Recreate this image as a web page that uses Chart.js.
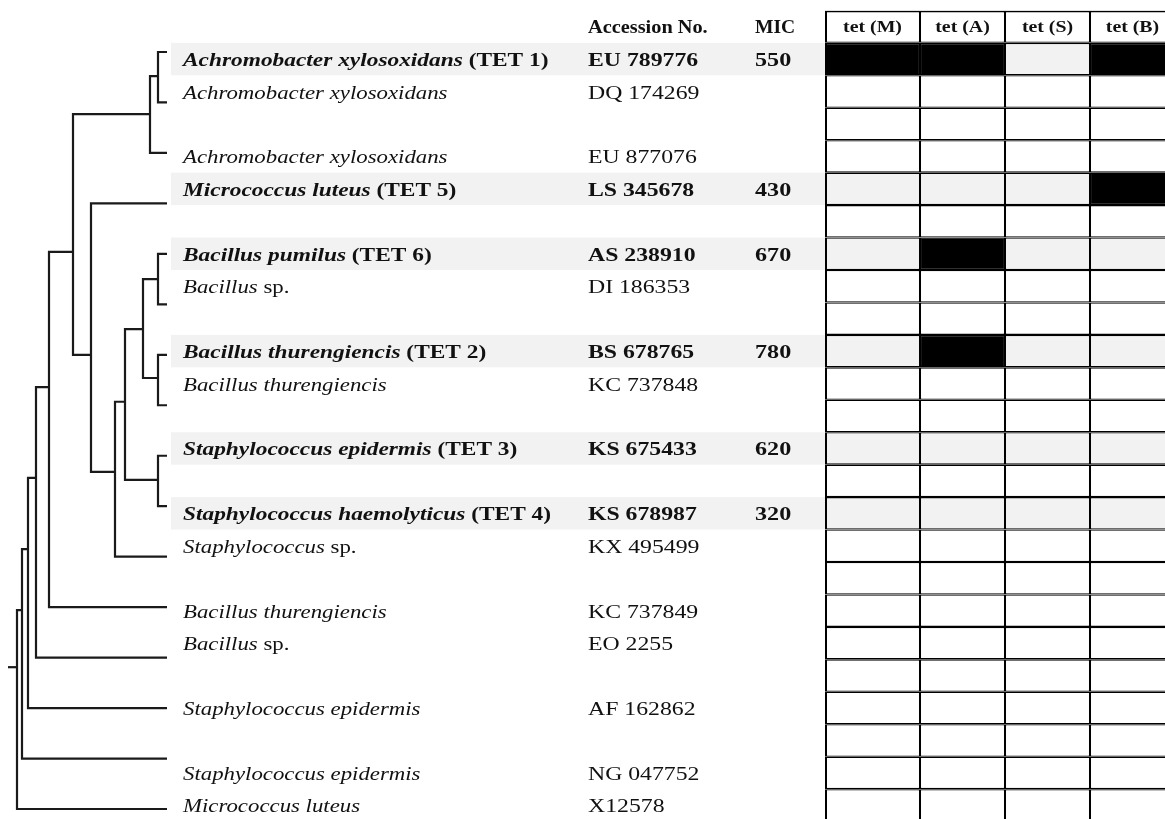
<!DOCTYPE html>
<html><head><meta charset="utf-8">
<script src="https://cdn.jsdelivr.net/npm/chart.js@4.4.1/dist/chart.umd.min.js"></script>
<style>
html,body{margin:0;padding:0;background:#fff;overflow:hidden;width:1165px;height:819px;}
#wrap{position:relative;width:1165px;height:819px;overflow:hidden;background:#fff;}
canvas{position:absolute;left:0;top:0;}
</style></head><body>
<div id="wrap">
<canvas id="table" width="1165" height="822"></canvas>
<canvas id="tree" width="180" height="822"></canvas>
</div>
<script>
// ================= DATA =================
// one entry per table row (24 rows, blank rows are spacer rows)
const species = [
  'Achromobacter xylosoxidans','Achromobacter xylosoxidans','','Achromobacter xylosoxidans',
  'Micrococcus luteus','','Bacillus pumilus','Bacillus','',
  'Bacillus thurengiencis','Bacillus thurengiencis','','Staphylococcus epidermis','',
  'Staphylococcus haemolyticus','Staphylococcus','','Bacillus thurengiencis','Bacillus','',
  'Staphylococcus epidermis','','Staphylococcus epidermis','Micrococcus luteus'
];
const strainTag = [
  '(TET 1)','','','','(TET 5)','','(TET 6)','sp.','','(TET 2)','','','(TET 3)','',
  '(TET 4)','sp.','','','sp.','','','','',''
];
const accession = [
  'EU 789776','DQ 174269','','EU 877076','LS 345678','','AS 238910','DI 186353','',
  'BS 678765','KC 737848','','KS 675433','','KS 678987','KX 495499','','KC 737849',
  'EO 2255','','AF 162862','','NG 047752','X12578'
];
const micValues = [550,null,null,null,430,null,670,null,null,780,null,null,620,null,320,null,null,null,null,null,null,null,null,null];
const headers = ['Accession No.','MIC'];
const genes = ['tet (M)','tet (A)','tet (S)','tet (B)'];
const tetM = [1,0,0,0,0,0,0,0,0,0,0,0,0,0,0,0,0,0,0,0,0,0,0,0];
const tetA = [1,0,0,0,0,0,1,0,0,1,0,0,0,0,0,0,0,0,0,0,0,0,0,0];
const tetS = [0,0,0,0,0,0,0,0,0,0,0,0,0,0,0,0,0,0,0,0,0,0,0,0];
const tetB = [1,0,0,0,1,0,0,0,0,0,0,0,0,0,0,0,0,0,0,0,0,0,0,0];

// phylogenetic tree: 16 leaves (top to bottom), internal nodes with depth (branch units) and y (leaf units)
const leafDepth = 159;
const nodeNames  = ['A','B','P1','P2','P3','Q','S','T','D','C','E','F','G','H','R'];
const nodeDepth  = [150,142,150,150,150,135,117,107,83,65,41,28,20,14,9];
const nodeY      = [0.48,1.23,4.5,6.46,8.48,5.49,6.93,8.32,6.0,3.96,6.64,8.44,9.85,11.06,12.19];
const nodeChild1 = ['L0','A','L4','L6','L8','P1','Q','S','L3','B','C','E','F','G','H'];
const nodeChild2 = ['L1','L2','L5','L7','L9','P2','P3','L10','T','D','L11','L12','L13','L14','L15'];
const rootStubStart = 0;

// ================= LAYOUT / STYLE =================
const COLUMN_WIDTH = [95,85,85,85];   // px widths of gene columns
const X_SPECIES = 183, X_ACC = 588, X_MIC = 755, BAND_LEFT = 171;
const SHADE = '#f2f2f2', INK = '#111';
const SERIF = '"Liberation Serif","Times New Roman",serif';

const presence = [tetM, tetA, tetS, tetB];
const isIsolate = strainTag.map(t => t.startsWith('('));

function drawScaled(ctx, text, x, y, font, sx, align) {
  ctx.save();
  ctx.font = font;
  const w = ctx.measureText(text).width * sx;
  const x0 = align === 'center' ? x - w / 2 : x;
  ctx.translate(x0, y);
  ctx.scale(sx, 1);
  ctx.textAlign = 'left';
  ctx.textBaseline = 'alphabetic';
  ctx.fillStyle = INK;
  ctx.fillText(text, 0, 0);
  ctx.restore();
  return w;
}

const tablePlugin = {
  id: 'tableText',
  beforeDatasetsDraw(chart) {
    const ctx = chart.ctx, ys = chart.scales.y, xs = chart.scales.x;
    const h = ys.getPixelForValue(1) - ys.getPixelForValue(0);
    ctx.save();
    ctx.fillStyle = SHADE;
    isIsolate.forEach((iso, r) => {
      if (!iso) return;
      const c = ys.getPixelForValue(r + 1);
      ctx.fillRect(BAND_LEFT, c - h / 2, xs.left - BAND_LEFT, h);
    });
    ctx.restore();
  },
  afterDatasetsDraw(chart) {
    const ctx = chart.ctx, ys = chart.scales.y, xs = chart.scales.x;
    const hc = ys.getPixelForValue(0);
    // header texts
    drawScaled(ctx, headers[0], X_ACC, hc + 6, 'bold 19px ' + SERIF, 1.07);
    drawScaled(ctx, headers[1], X_MIC, hc + 6, 'bold 19px ' + SERIF, 1.03);
    let acc = 0;
    genes.forEach((g, i) => {
      const cx = xs.getPixelForValue(acc + COLUMN_WIDTH[i] / 2);
      acc += COLUMN_WIDTH[i];
      drawScaled(ctx, g, cx, hc + 5, 'bold 16px ' + SERIF, 1.24, 'center');
    });
    // rows
    species.forEach((name, r) => {
      const base = ys.getPixelForValue(r + 1) + 7;
      const bold = isIsolate[r];
      const sx = bold ? 1.23 : 1.2;
      if (name) {
        let x = X_SPECIES;
        x += drawScaled(ctx, name, x, base, (bold ? 'italic bold ' : 'italic ') + '19px ' + SERIF, sx);
        if (strainTag[r]) {
          drawScaled(ctx, ' ' + strainTag[r], x, base, (bold ? 'bold ' : '') + '19px ' + SERIF, sx);
        }
      }
      if (accession[r]) drawScaled(ctx, accession[r], X_ACC, base, (bold ? 'bold ' : '') + '19px ' + SERIF, 1.25);
      if (micValues[r] != null) drawScaled(ctx, String(micValues[r]), X_MIC, base, 'bold 19px ' + SERIF, 1.27);
    });
  }
};

// ================= TABLE / GRID CHART =================
const rowLabels = ['genes'].concat(species.map((s, i) => 'row' + i));
const gridDatasets = genes.map((g, gi) => ({
  label: g,
  data: rowLabels.map(() => COLUMN_WIDTH[gi]),
  backgroundColor: (c) => {
    const r = c.dataIndex - 1;
    if (r < 0) return '#ffffff';
    if (presence[gi][r]) return '#000000';
    return isIsolate[r] ? SHADE : '#ffffff';
  },
  borderColor: '#000',
  borderWidth: (c) => ({top: c.dataIndex === 0 ? 2 : 1.3, bottom: 1.3, left: gi === 0 ? 2 : 1.1, right: 1.1}),
  borderSkipped: false,
  inflateAmount: 0,
  barPercentage: 1,
  categoryPercentage: 1
}));

new Chart(document.getElementById('table'), {
  type: 'bar',
  data: { labels: rowLabels, datasets: gridDatasets },
  options: {
    indexAxis: 'y',
    responsive: false,
    animation: false,
    layout: { padding: { left: 825, right: 0, top: 10.4, bottom: 0.4 } },
    plugins: { legend: { display: false }, tooltip: { enabled: false } },
    scales: {
      x: { type: 'linear', stacked: true, min: 0, max: 340, display: false },
      y: { type: 'category', stacked: true, display: false, offset: true }
    }
  },
  plugins: [tablePlugin]
});

// ================= TREE CHART =================
function nodePos(id) {
  if (id[0] === 'L') return { x: leafDepth, y: Number(id.slice(1)) };
  const i = nodeNames.indexOf(id);
  return { x: nodeDepth[i], y: nodeY[i] };
}
const treeDatasets = nodeNames.map((n, i) => {
  const c1 = nodePos(nodeChild1[i]), c2 = nodePos(nodeChild2[i]);
  return {
    label: n,
    data: [
      { x: c1.x, y: c1.y }, { x: nodeDepth[i], y: c1.y },
      { x: nodeDepth[i], y: c2.y }, { x: c2.x, y: c2.y }
    ]
  };
});
const rootIdx = nodeNames.indexOf('R');
treeDatasets.push({ label: 'root', data: [{ x: rootStubStart, y: nodeY[rootIdx] }, { x: nodeDepth[rootIdx], y: nodeY[rootIdx] }] });
treeDatasets.forEach(d => Object.assign(d, {
  borderColor: '#1a1a1a', borderWidth: 2.2, pointRadius: 0, tension: 0, fill: false,
  clip: false, borderJoinStyle: 'miter', borderCapStyle: 'butt'
}));

new Chart(document.getElementById('tree'), {
  type: 'line',
  data: { datasets: treeDatasets },
  options: {
    responsive: false,
    animation: false,
    layout: { padding: { left: 8, right: 13, top: 52, bottom: 13 } },
    plugins: { legend: { display: false }, tooltip: { enabled: false } },
    scales: {
      x: { type: 'linear', min: 0, max: leafDepth, display: false },
      y: { type: 'linear', min: 0, max: 15, reverse: true, display: false }
    }
  }
});
</script>
</body></html>
